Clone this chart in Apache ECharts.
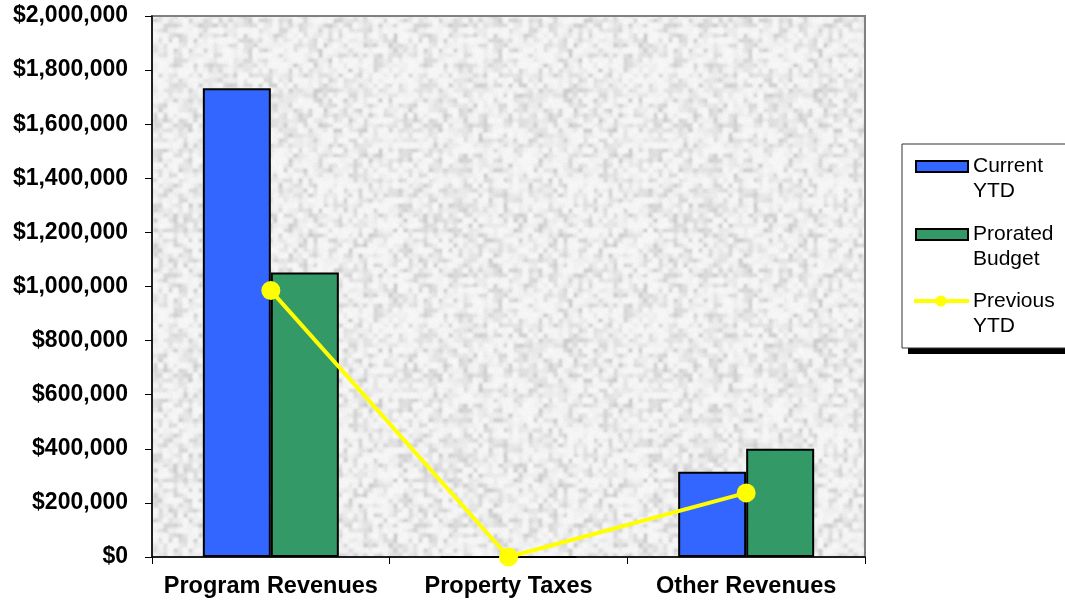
<!DOCTYPE html>
<html>
<head>
<meta charset="utf-8">
<script src="https://cdn.jsdelivr.net/npm/echarts@6/dist/echarts.min.js"></script>
<style>html,body{margin:0;padding:0;background:#fff;}#c{width:1065px;height:602px;}</style>
</head>
<body>
<div id="c"></div>
<script>
var categories = ['Program Revenues', 'Property Taxes', 'Other Revenues'];
var seriesNames = ['Current\nYTD', 'Prorated\nBudget', 'Previous\nYTD'];
var currentYTD = [1733000, 0, 315000];
var proratedBudget = [1052000, 0, 400000];
var previousYTD = [985000, 0, 237000];
var yTicks = [0, 200000, 400000, 600000, 800000, 1000000, 1200000, 1400000, 1600000, 1800000, 2000000];

// granite-like texture for the plot background (decorative only)
function makeTexture() {
  var W = 250, H = 250;
  var cv = document.createElement('canvas');
  cv.width = W; cv.height = H;
  var ctx = cv.getContext('2d');
  var seed = 98765;
  function rnd() { seed = (seed * 1103515245 + 12345) & 0x7fffffff; return seed / 0x7fffffff; }
  var small = 50, g = [];
  for (var i = 0; i < small * small; i++) g.push(rnd());
  function gv(x, y) { x = (x + small) % small; y = (y + small) % small; return g[y * small + x]; }
  var img = ctx.createImageData(W, H);
  for (var y = 0; y < H; y++) {
    for (var x = 0; x < W; x++) {
      var fx = x / (W / small), fy = y / (H / small);
      var x0 = Math.floor(fx), y0 = Math.floor(fy), tx = fx - x0, ty = fy - y0;
      tx = tx * tx * (3 - 2 * tx); ty = ty * ty * (3 - 2 * ty);
      var v = gv(x0, y0) * (1 - tx) * (1 - ty) + gv(x0 + 1, y0) * tx * (1 - ty) + gv(x0, y0 + 1) * (1 - tx) * ty + gv(x0 + 1, y0 + 1) * tx * ty;
      var c = Math.round(246 - Math.pow(v, 2.2) * 42 + (rnd() - 0.5) * 6);
      var k = (y * W + x) * 4;
      img.data[k] = c; img.data[k + 1] = c; img.data[k + 2] = c; img.data[k + 3] = 255;
    }
  }
  ctx.putImageData(img, 0, 0);
  return cv;
}

var FONT = 'Liberation Sans, Arial, sans-serif';
var chart = echarts.init(document.getElementById('c'), null, {renderer: 'canvas'});

function legendGraphic() {
  var els = [];
  var bx = 902, by = 144, bw = 170, bh = 204;
  els.push({type: 'rect', shape: {x: bx + 6, y: by + 6, width: bw, height: bh}, style: {fill: '#000'}, z: 100});
  els.push({type: 'rect', shape: {x: bx, y: by, width: bw, height: bh}, style: {fill: '#fff', stroke: '#333', lineWidth: 1}, z: 101});
  var rows = [166, 234, 301];
  var colors = ['#3366ff', '#339966', '#ffff00'];
  for (var i = 0; i < 3; i++) {
    var cy = rows[i];
    if (i < 2) {
      els.push({type: 'rect', shape: {x: 916, y: cy - 5, width: 52, height: 11}, style: {fill: colors[i], stroke: '#000', lineWidth: 2}, z: 102});
    } else {
      els.push({type: 'line', shape: {x1: 914, y1: cy, x2: 969, y2: cy}, style: {stroke: colors[i], lineWidth: 4}, z: 102});
      els.push({type: 'circle', shape: {cx: 941, cy: cy, r: 5.5}, style: {fill: colors[i]}, z: 103});
    }
    els.push({type: 'text', x: 973, y: cy - 12, style: {text: seriesNames[i], font: '21px ' + FONT, fill: '#000', lineHeight: 25, textVerticalAlign: 'top'}, z: 102});
  }
  return els;
}

var option = {
  animation: false,
  backgroundColor: '#fff',
  grid: {
    left: 152, right: 200, top: 16, bottom: 45,
    show: true,
    backgroundColor: {image: makeTexture(), repeat: 'repeat'},
    borderColor: '#808080', borderWidth: 2
  },
  xAxis: {
    type: 'category',
    data: categories,
    boundaryGap: true,
    axisLine: {lineStyle: {color: '#000', width: 1.5}},
    axisTick: {show: true, length: 7, lineStyle: {color: '#000'}},
    axisLabel: {color: '#000', fontWeight: 'bold', fontSize: 23.5, fontFamily: FONT, margin: 18, interval: 0}
  },
  yAxis: {
    type: 'value',
    min: yTicks[0], max: yTicks[yTicks.length - 1], interval: yTicks[1] - yTicks[0],
    axisLine: {show: true, lineStyle: {color: '#000', width: 1.5}},
    axisTick: {show: true, length: 7, lineStyle: {color: '#000'}},
    splitLine: {show: false},
    axisLabel: {
      color: '#000', fontWeight: 'bold', fontSize: 23, fontFamily: FONT, margin: 24,
      formatter: function (v) { return '$' + v.toLocaleString('en-US'); }
    }
  },
  series: [
    {name: seriesNames[0], type: 'bar', data: currentYTD, barWidth: 68, barGap: '0%',
     itemStyle: {color: '#3366ff', borderColor: '#000', borderWidth: 2}},
    {name: seriesNames[1], type: 'bar', data: proratedBudget, barWidth: 68,
     itemStyle: {color: '#339966', borderColor: '#000', borderWidth: 2}},
    {name: seriesNames[2], type: 'line', data: previousYTD, symbol: 'circle', symbolSize: 19,
     lineStyle: {color: '#ffff00', width: 4}, itemStyle: {color: '#ffff00'}, z: 5}
  ],
  graphic: legendGraphic()
};
chart.setOption(option);
</script>
</body>
</html>
